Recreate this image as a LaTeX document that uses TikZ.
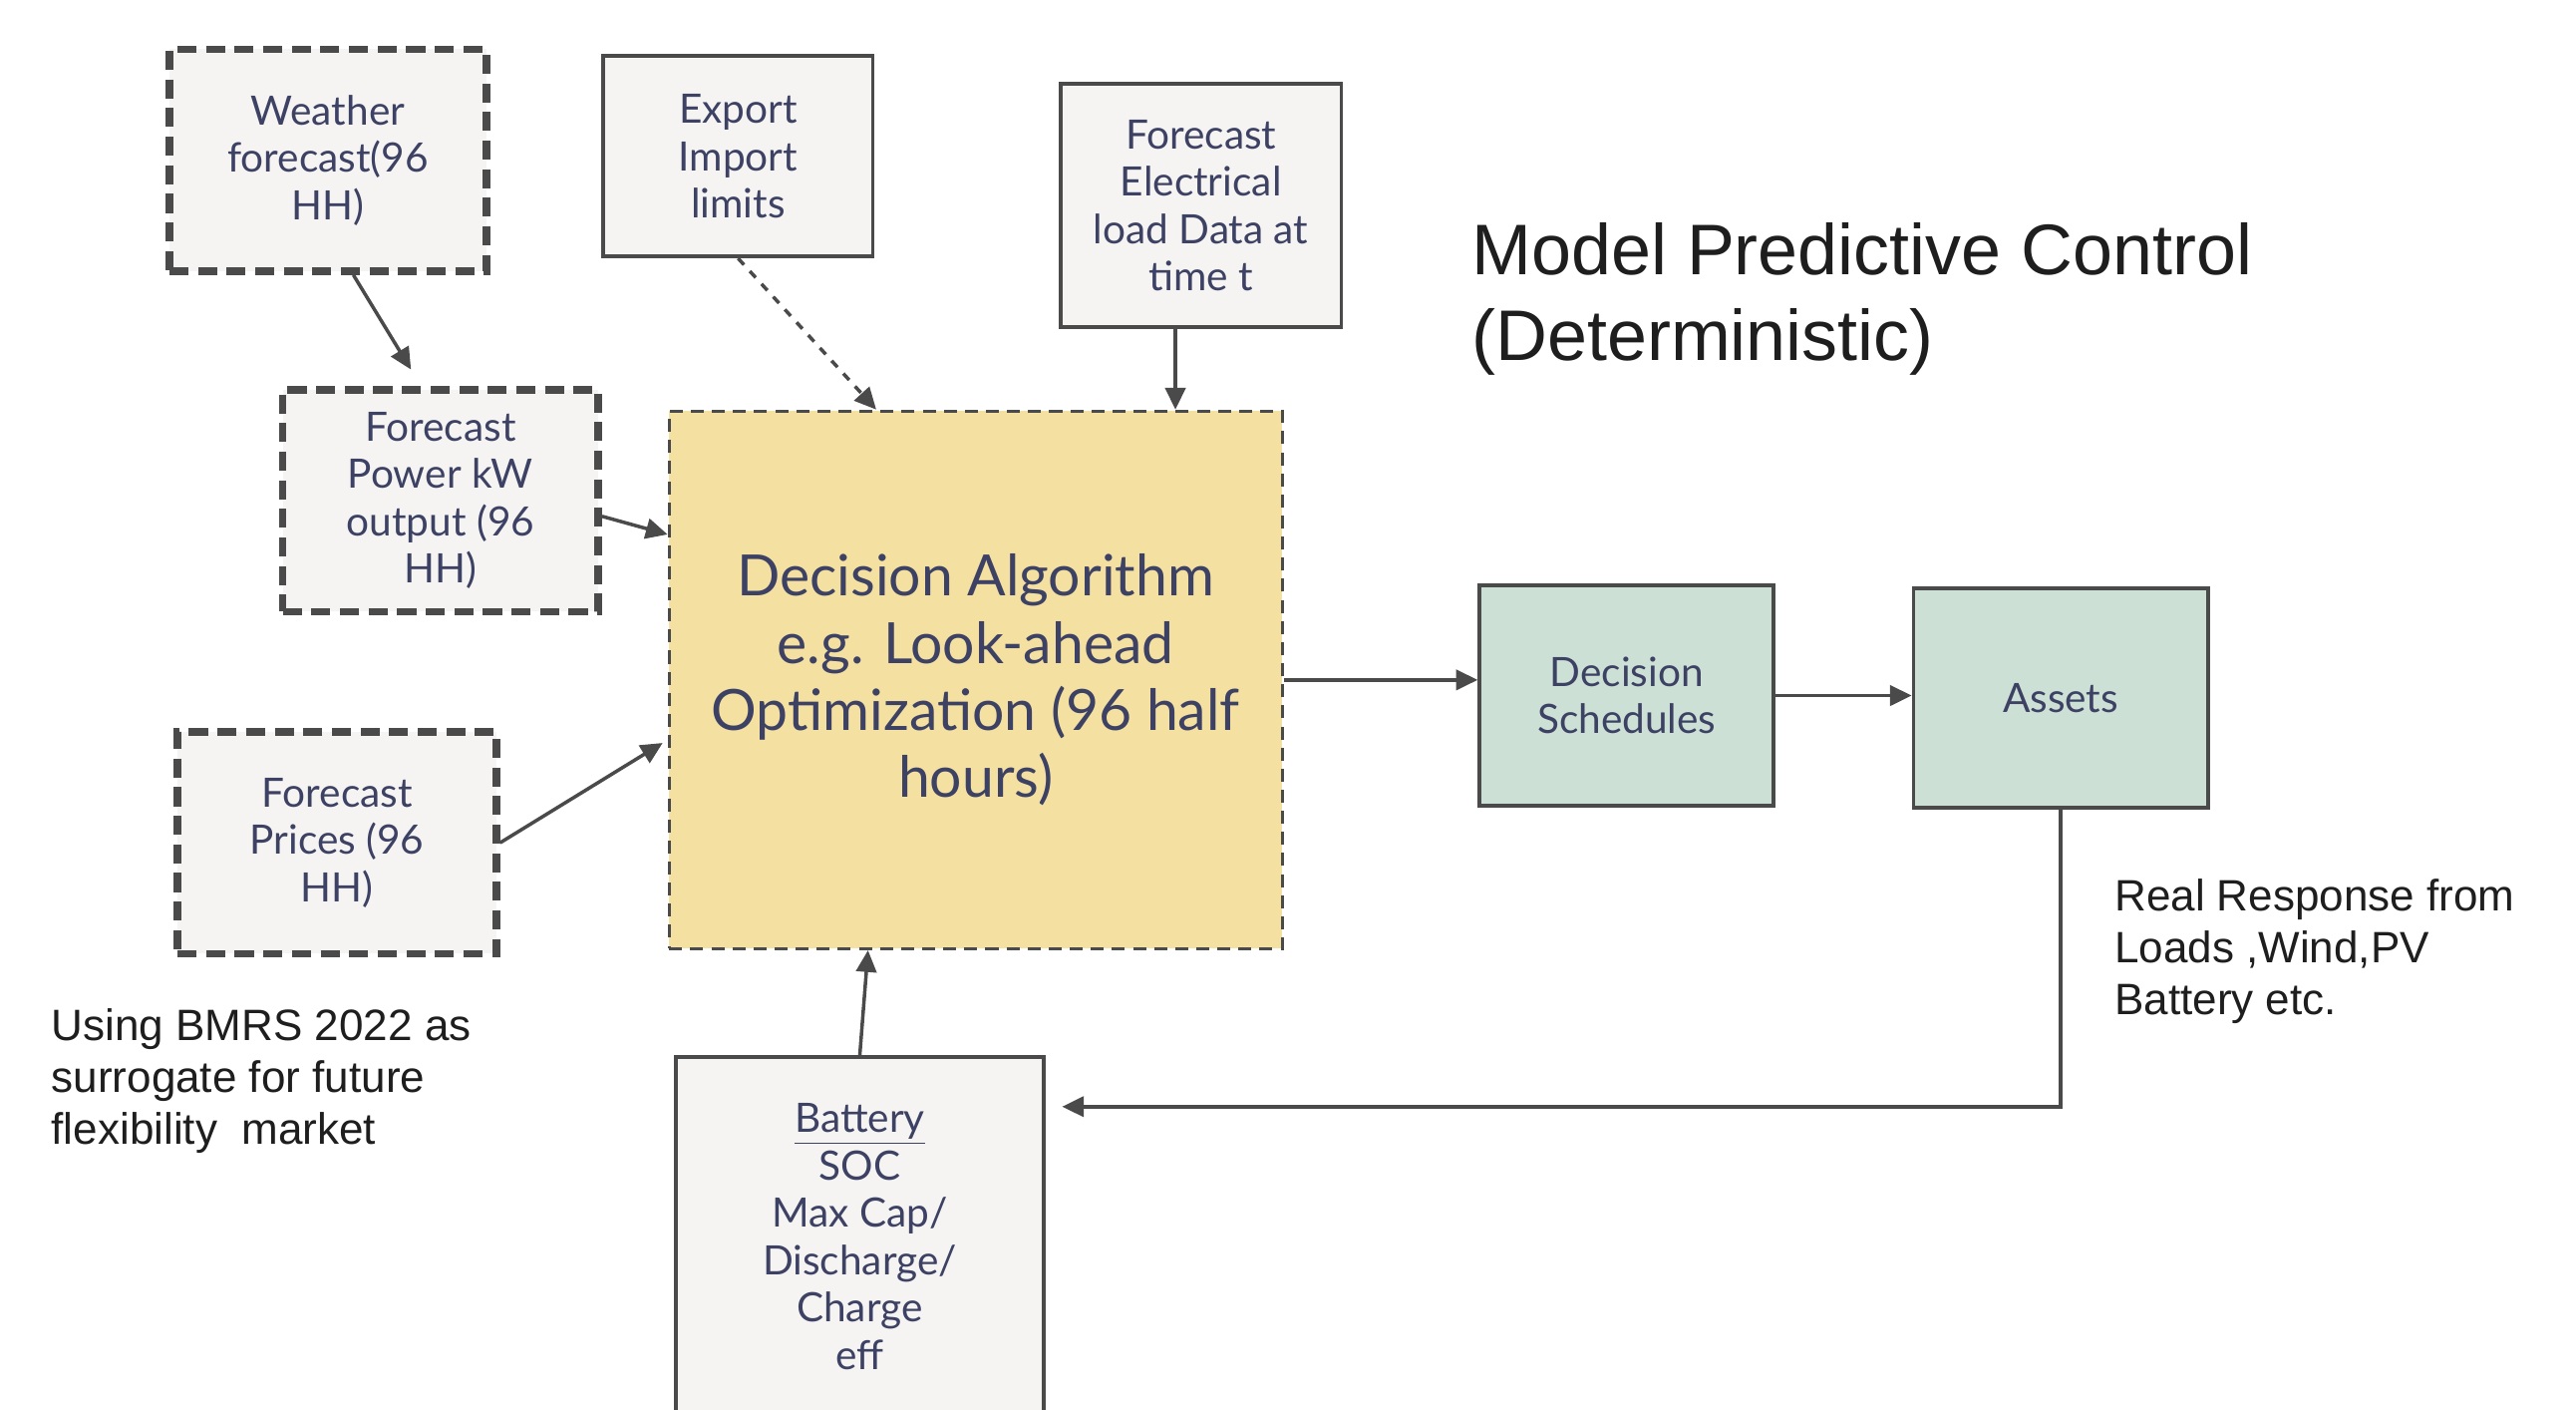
\documentclass[tikz,border=0pt]{standalone}
\usepackage{fontspec}
\setmainfont{Lato}
\newfontfamily\arialfont{Liberation Sans}
\usetikzlibrary{arrows.meta}
\definecolor{boxgray}{HTML}{F5F4F2}
\definecolor{edgegray}{HTML}{4A4A4A}
\definecolor{algoyellow}{HTML}{F4E0A1}
\definecolor{assetgreen}{HTML}{CDE0D6}
\definecolor{inkblue}{HTML}{3D4163}
\definecolor{inkblack}{HTML}{1E1E1E}
\begin{document}
\begin{tikzpicture}[x=0.02cm,y=-0.02cm,
	box/.style={draw=edgegray,fill=boxgray,line width=1.3pt,align=center,text=inkblue,inner sep=0pt,font=\fontsize{14}{16.4}\selectfont},
	inbox/.style={box,line width=2.6pt,dash pattern=on 6.6pt off 3.3pt},
	greenbox/.style={box,fill=assetgreen},
	arr/.style={draw=edgegray,line width=1.2pt,-{Triangle[length=7.5pt,width=7pt]}},
	note/.style={align=left,text=inkblack,inner sep=0pt,font=\arialfont\fontsize{15.2}{17.9}\selectfont}]
	\useasboundingbox (0,0) rectangle (1567,857);
	\fill[white] (0,0) rectangle (1567,857);
	% inputs
	\node[inbox,minimum width=3.86cm,minimum height=2.70cm] (weather) at (199.5,97.5) {Weather\\forecast(96\\HH)};
	\node[box,minimum width=3.28cm,minimum height=2.44cm] (export) at (449,95) {Export\\Import\\limits};
	\node[box,minimum width=3.42cm,minimum height=2.96cm] (load) at (730.5,125) {Forecast\\Electrical\\load Data at\\time t};
	\node[inbox,minimum width=3.84cm,minimum height=2.70cm] (power) at (268,304.5) {Forecast\\Power kW\\output (96\\HH)};
	\node[inbox,minimum width=3.88cm,minimum height=2.70cm] (prices) at (205,512.5) {Forecast\\Prices (96\\HH)};
	% optimiser and outputs
	\node[box,fill=algoyellow,line width=1.1pt,dash pattern=on 4.5pt off 2.8pt,minimum width=7.46cm,minimum height=6.54cm,font=\fontsize{19.7}{23.2}\selectfont] (algo) at (593.5,413.5) {Decision Algorithm\\e.g. Look-ahead\\Optimization (96 half\\hours)};
	\node[greenbox,minimum width=3.58cm,minimum height=2.68cm] (sched) at (989.5,423) {Decision\\Schedules};
	\node[greenbox,minimum width=3.58cm,minimum height=2.66cm] (assets) at (1253.5,424.5) {Assets};
	\node[box,minimum width=4.48cm,minimum height=4.36cm] (battery) at (523,752) {\underline{Battery}\\SOC\\Max Cap/\\Discharge/\\Charge\\eff};
	% texts (base = last line)
	\node[note,anchor=base west,font=\arialfont\fontsize{24.8}{29.5}\selectfont] (title) at (895,219) {Model Predictive Control\\(Deterministic)};
	\node[note,anchor=base west] (response) at (1286,617) {Real Response from\\Loads ,Wind,PV\\Battery etc.};
	\node[note,anchor=base west] (bmrs) at (31,696) {Using BMRS 2022 as\\surrogate for future\\flexibility~ market};
	% connectors
	\coordinate (loop) at (1253.5,673);
	\draw[arr] ([xshift=0.31cm]weather.south) -- ([xshift=-0.36cm,yshift=0.2cm]power.north);
	\draw[arr,dashed] (export.south) -- ([xshift=-1.21cm]algo.north);
	\draw[arr] ([xshift=-0.31cm]load.south) -- ([xshift=-0.31cm]load.south |- algo.north);
	\draw[arr] ([yshift=-0.19cm]power.east) -- ([yshift=1.77cm]algo.west);
	\draw[arr,shorten >=2pt] (prices.east) -- ([yshift=-0.73cm]algo.west);
	\draw[arr] (algo.east) -- (algo.east -| sched.west);
	\draw[arr] (sched.east) -- (sched.east -| assets.west);
	\draw[arr,shorten >=0.2cm] (assets.south) -- (loop) -- (loop -| battery.east);
	\draw[arr] (battery.north) -- ([xshift=-1.31cm]algo.south);
\end{tikzpicture}
\end{document}
